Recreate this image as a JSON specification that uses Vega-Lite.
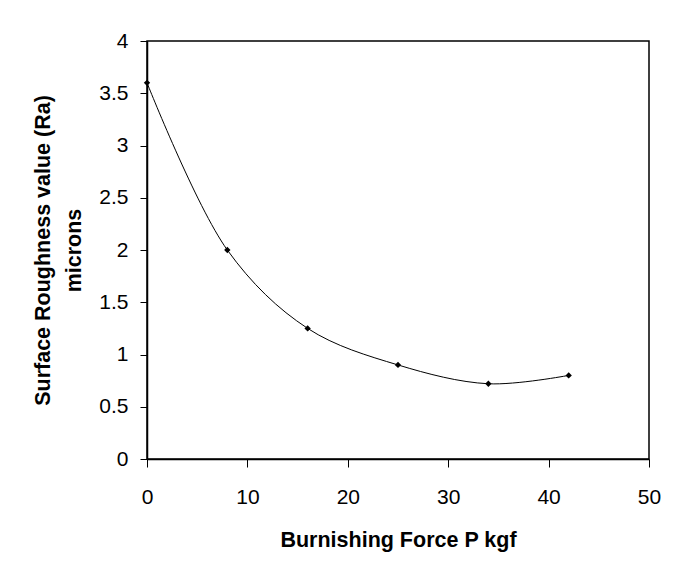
{
  "$schema": "https://vega.github.io/schema/vega-lite/v6.json",
  "width": 502,
  "height": 418,
  "autosize": "none",
  "padding": {"left": 147, "top": 41, "right": 32, "bottom": 123},
  "background": "white",
  "config": {
    "view": {"stroke": "black", "strokeWidth": 1.5},
    "axis": {"grid": false, "domainColor": "black", "domainWidth": 1.5, "tickColor": "black", "labelColor": "black", "titleColor": "black", "labelFont": "Liberation Sans", "labelFontSize": 21, "titleFont": "Liberation Sans", "titleFontSize": 21.5, "titleFontWeight": "bold", "tickSize": 8, "labelFlush": false}
  },
  "data": {"values": [
    {"force": 0, "ra": 3.6},
    {"force": 8, "ra": 2.0},
    {"force": 16, "ra": 1.25},
    {"force": 25, "ra": 0.9},
    {"force": 34, "ra": 0.72},
    {"force": 42, "ra": 0.8}
  ]},
  "encoding": {
    "x": {"field": "force", "type": "quantitative", "scale": {"domain": [0, 50], "nice": false}, "axis": {"title": "Burnishing Force P kgf", "values": [0, 10, 20, 30, 40, 50], "format": "d", "labelPadding": 19, "titlePadding": 22}},
    "y": {"field": "ra", "type": "quantitative", "scale": {"domain": [0, 4], "nice": false}, "axis": {"title": ["Surface Roughness value (Ra)", "microns"], "values": [0, 0.5, 1, 1.5, 2, 2.5, 3, 3.5, 4], "format": "~g", "tickSize": 7, "labelPadding": 12, "titlePadding": 13, "titleLineHeight": 31}}
  },
  "layer": [
    {"mark": {"type": "line", "interpolate": "catmull-rom", "color": "black", "strokeWidth": 1}},
    {"mark": {"type": "point", "shape": "diamond", "filled": true, "color": "black", "size": 40, "opacity": 1}}
  ]
}
